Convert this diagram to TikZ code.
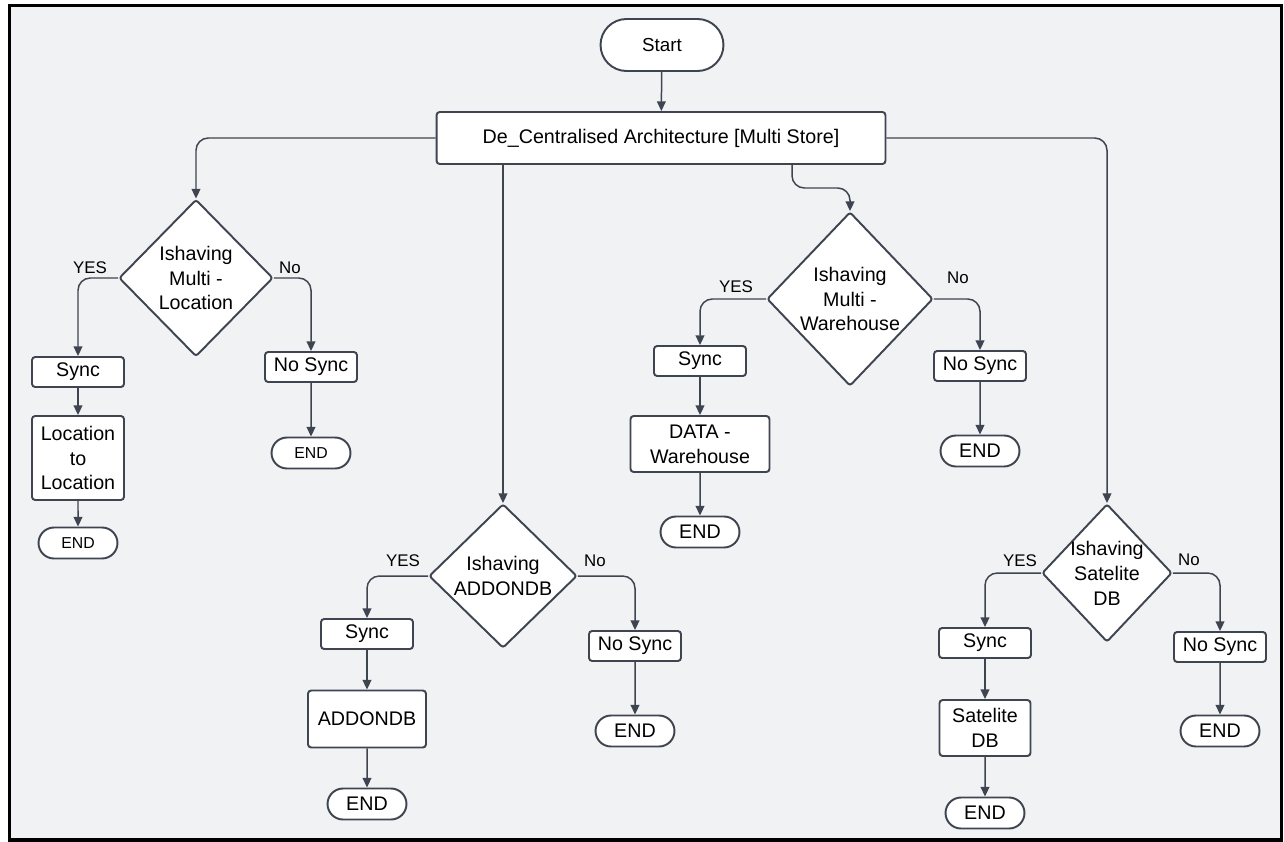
\documentclass[tikz,border=0pt]{standalone}
\usepackage{fontspec}
\setmainfont{Liberation Sans}
\usetikzlibrary{shapes.geometric,shapes.misc,arrows.meta}
\definecolor{ink}{HTML}{3E4450}
\definecolor{paper}{HTML}{F1F2F4}
\begin{document}
\begin{tikzpicture}[x=0.02cm,y=-0.02cm,
  every node/.style={font=\fontsize{11.2}{14.2}\selectfont},
  box/.style={draw=ink,fill=white,line width=1.1pt,rounded corners=1.8pt,inner sep=2pt,align=center,minimum width=1.84cm,minimum height=0.6cm},
  term/.style={draw=ink,fill=white,line width=1.1pt,rounded rectangle,inner sep=2pt,minimum width=1.72cm,minimum height=0.62cm},
  cond/.style={draw=ink,fill=white,line width=1.1pt,diamond,inner sep=-3pt,align=center,rounded corners=1.5pt},
  lbl/.style={font=\fontsize{9.6}{11}\selectfont},
  flow/.style={draw=ink,line width=0.85pt,-{Triangle[width=5pt,length=5.5pt]},rounded corners=7pt}]
\fill[white] (0,0) rectangle (1284,841);
\path[fill=paper,draw=black,line width=1.8pt] (9.5,5.5) rectangle (1281.5,840);
\useasboundingbox (0,0) rectangle (1284,841);

\node[term,minimum width=2.6cm,minimum height=1.04cm,font=\fontsize{10.7}{13}\selectfont] (1) at (662,45) {Start};
\node[box,minimum width=8.98cm,minimum height=1.04cm] (2) at (661,138) {De\_Centralised Architecture [Multi Store]};

\node[cond,minimum width=3.08cm,minimum height=3.14cm] (3) at (196,278) {Ishaving\\Multi -\\Location};
\node[box] (4) at (78,372) {Sync};
\node[box,minimum height=1.68cm] (5) at (78,458) {Location\\to\\Location};
\node[term,font=\fontsize{9}{11}\selectfont] (6) at (78,543) {END};
\node[box] (7) at (311,367) {No Sync};
\node[term,font=\fontsize{9}{11}\selectfont] (8) at (311,453) {END};

\node[cond,minimum width=2.96cm,minimum height=2.88cm] (9) at (503,576) {Ishaving\\ADDONDB};
\node[box] (10) at (367,634) {Sync};
\node[box,minimum width=2.36cm,minimum height=1.14cm] (11) at (367,719) {ADDONDB};
\node[term] (12) at (367,804) {END};
\node[box] (13) at (635,646) {No Sync};
\node[term] (14) at (635,731) {END};

\node[cond,minimum width=3.32cm,minimum height=3.48cm] (15) at (850,299) {Ishaving\\Multi -\\Warehouse};
\node[box] (16) at (700,361) {Sync};
\node[box,minimum width=2.78cm,minimum height=1.12cm] (17) at (700,444) {DATA -\\Warehouse};
\node[term] (18) at (700,532) {END};
\node[box] (19) at (980,366) {No Sync};
\node[term] (20) at (980,451) {END};

\node[cond,minimum width=2.6cm,minimum height=2.76cm] (21) at (1107,573) {Ishaving\\Satelite\\DB};
\node[box] (22) at (985,643) {Sync};
\node[box,minimum width=1.82cm,minimum height=1.12cm] (23) at (985,728) {Satelite\\DB};
\node[term] (24) at (985,813) {END};
\node[box] (25) at (1220,647) {No Sync};
\node[term] (26) at (1220,731) {END};

\node[lbl] (y1) at (90,268) {YES};
\node[lbl] (n1) at (290,268) {No};
\node[lbl] (y2) at (403,561) {YES};
\node[lbl] (n2) at (595,561) {No};
\node[lbl] (y3) at (736,287) {YES};
\node[lbl] (n3) at (958,278) {No};
\node[lbl] (y4) at (1020,561) {YES};
\node[lbl] (n4) at (1189,560) {No};

\coordinate (k) at (792,188);
\path[flow] (1) -- (2);
\path[flow] (2.west) -| (3.north);
\path[flow] (2.south -| 9.north) -- (9.north);
\path[flow] (2.south -| k) -- (k) -- (15.north |- k) -- (15.north);
\path[flow] (2.east) -| (21.north);

\path[flow] (3.west) -| (4.north);
\path[flow] (3.east) -| (7.north);
\path[flow] (4) -- (5);
\path[flow] (5) -- (6);
\path[flow] (7) -- (8);

\path[flow] (9.west) -| (10.north);
\path[flow] (9.east) -| (13.north);
\path[flow] (10) -- (11);
\path[flow] (11) -- (12);
\path[flow] (13) -- (14);

\path[flow] (15.west) -| (16.north);
\path[flow] (15.east) -| (19.north);
\path[flow] (16) -- (17);
\path[flow] (17) -- (18);
\path[flow] (19) -- (20);

\path[flow] (21.west) -| (22.north);
\path[flow] (21.east) -| (25.north);
\path[flow] (22) -- (23);
\path[flow] (23) -- (24);
\path[flow] (25) -- (26);
\end{tikzpicture}
\end{document}
